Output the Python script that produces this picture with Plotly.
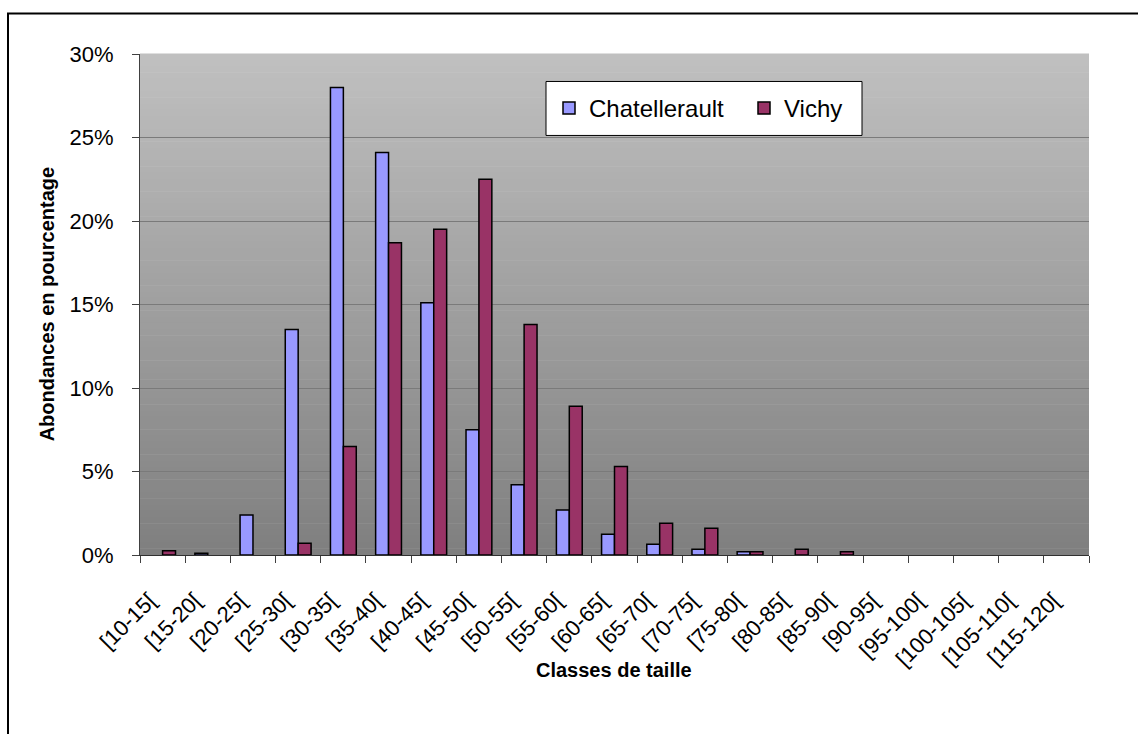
import plotly.graph_objects as go

# Size classes (cm) and relative abundances (%) for each site
categories = ["[10-15[", "[15-20[", "[20-25[", "[25-30[", "[30-35[", "[35-40[",
              "[40-45[", "[45-50[", "[50-55[", "[55-60[", "[60-65[", "[65-70[",
              "[70-75[", "[75-80[", "[80-85[", "[85-90[", "[90-95[", "[95-100[",
              "[100-105[", "[105-110[", "[115-120["]
chatellerault = [0, 0.1, 2.4, 13.5, 28.0, 24.1, 15.1, 7.5, 4.2, 2.7, 1.25,
                 0.65, 0.35, 0.2, 0, 0, 0, 0, 0, 0, 0]
vichy = [0.25, 0, 0, 0.7, 6.5, 18.7, 19.5, 22.5, 13.8, 8.9, 5.3,
         1.9, 1.6, 0.2, 0.35, 0.2, 0, 0, 0, 0, 0]

y_ticks = [0, 5, 10, 15, 20, 25, 30]
y_ticktext = [f"{v}%" for v in y_ticks]

W, H = 1138, 734
PL, PR, PT, PB = 140, 1089, 53.5, 554.8

def px_x(px):
    return (px - PL) / (PR - PL)

def px_y(py):
    return (PB - py) / (PB - PT)

def nonzero(values):
    # empty classes get no bar at all (not even an outline)
    return [v if v else None for v in values]

FONT = "Liberation Sans, Arial, sans-serif"

fig = go.Figure()
fig.add_trace(go.Bar(
    x=categories, y=nonzero(chatellerault), name="Chatellerault",
    marker=dict(color="#9999FF", line=dict(color="black", width=1.5)),
))
fig.add_trace(go.Bar(
    x=categories, y=nonzero(vichy), name="Vichy",
    marker=dict(color="#993366", line=dict(color="black", width=1.5)),
))

# Vertical grey gradient behind the plot area
shapes = []
n_bands = 80
top_c, bot_c = 192, 127
for i in range(n_bands):
    t = (i + 0.5) / n_bands
    c = round(top_c + (bot_c - top_c) * t)
    shapes.append(dict(
        type="rect", xref="paper", yref="paper", layer="below",
        x0=0, x1=1, y0=1 - (i + 1) / n_bands, y1=1 - i / n_bands + 0.001,
        fillcolor=f"rgb({c},{c},{c})", line=dict(width=0),
    ))

# Legend frame
shapes.append(dict(
    type="rect", xref="paper", yref="paper", layer="above",
    x0=px_x(546), x1=px_x(862), y0=px_y(135), y1=px_y(81),
    fillcolor="white", line=dict(color="black", width=1),
))

# Outer chart frame
shapes.append(dict(
    type="rect", xref="paper", yref="paper", layer="above",
    x0=px_x(8), x1=px_x(W + 10), y0=px_y(H + 10), y1=px_y(13),
    fillcolor="rgba(0,0,0,0)", line=dict(color="black", width=2),
))

annotations = [
    dict(text="<b>Classes de taille</b>", xref="paper", yref="paper",
         x=px_x(614), y=px_y(670), showarrow=False,
         xanchor="center", yanchor="middle",
         font=dict(family=FONT, size=20, color="black")),
    dict(text="<b>Abondances en pourcentage</b>", xref="paper", yref="paper",
         x=px_x(47), y=px_y(304), showarrow=False, textangle=-90,
         xanchor="center", yanchor="middle",
         font=dict(family=FONT, size=20, color="black")),
]

fig.update_layout(
    width=W, height=H,
    margin=dict(l=PL, r=W - PR, t=PT, b=H - PB, pad=0),
    paper_bgcolor="white",
    plot_bgcolor="rgba(0,0,0,0)",
    barmode="group", bargap=0.4286, bargroupgap=0,
    font=dict(family=FONT, size=22, color="black"),
    shapes=shapes,
    annotations=annotations,
    legend=dict(
        orientation="h", x=px_x(549), y=px_y(108),
        xanchor="left", yanchor="middle",
        bgcolor="rgba(0,0,0,0)", borderwidth=0,
        entrywidth=150, entrywidthmode="pixels",
        font=dict(family=FONT, size=24, color="black"),
    ),
    xaxis=dict(
        type="category", tickangle=-45, tickson="boundaries",
        ticks="outside", ticklen=7, tickcolor="#404040",
        showline=True, linecolor="#303030", linewidth=1,
        showgrid=False, ticklabelstandoff=23, ticklabelshift=-13,
        tickfont=dict(family=FONT, size=22, color="black"),
    ),
    yaxis=dict(
        range=[0, 30], tickmode="array", tickvals=y_ticks, ticktext=y_ticktext,
        ticks="outside", ticklen=7, tickcolor="#404040",
        showline=True, linecolor="#404040", linewidth=1,
        showgrid=True, gridcolor="#7a7a7a", gridwidth=1,
        zeroline=False, ticklabelstandoff=14,
        tickfont=dict(family=FONT, size=22, color="black"),
    ),
)

fig.write_html("out.html")
